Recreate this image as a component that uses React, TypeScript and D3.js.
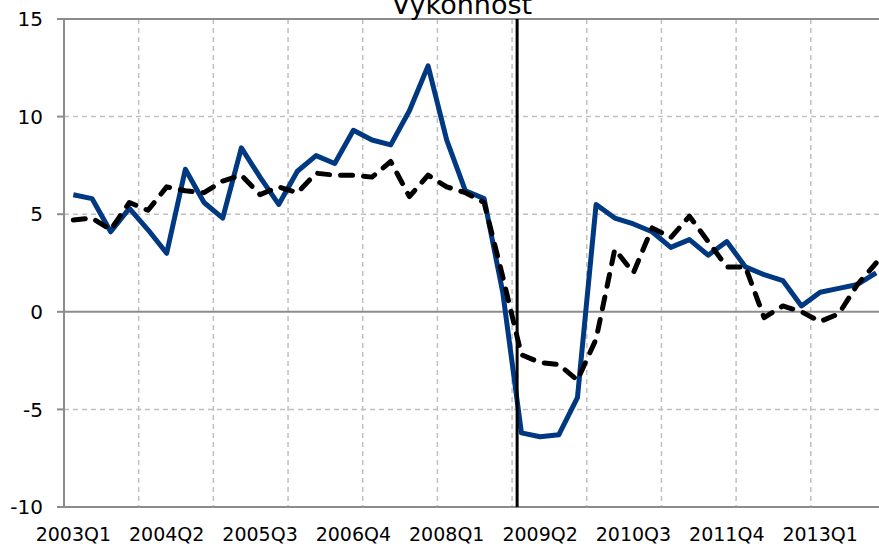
import React from "react";
import * as d3 from "d3";

const quarters = [
  "2003Q1", "2003Q2", "2003Q3", "2003Q4",
  "2004Q1", "2004Q2", "2004Q3", "2004Q4",
  "2005Q1", "2005Q2", "2005Q3", "2005Q4",
  "2006Q1", "2006Q2", "2006Q3", "2006Q4",
  "2007Q1", "2007Q2", "2007Q3", "2007Q4",
  "2008Q1", "2008Q2", "2008Q3", "2008Q4",
  "2009Q1", "2009Q2", "2009Q3", "2009Q4",
  "2010Q1", "2010Q2", "2010Q3", "2010Q4",
  "2011Q1", "2011Q2", "2011Q3", "2011Q4",
  "2012Q1", "2012Q2", "2012Q3", "2012Q4",
  "2013Q1", "2013Q2", "2013Q3", "2013Q4",
];

// solid blue series
const blueSeries = [
  6.0, 5.8, 4.1, 5.3, 4.2, 3.0, 7.3, 5.6, 4.8, 8.4, 6.9, 5.5,
  7.2, 8.0, 7.6, 9.3, 8.8, 8.55, 10.3, 12.6, 8.8, 6.2, 5.8, 1.0,
  -6.2, -6.4, -6.3, -4.4, 5.5, 4.8, 4.5, 4.1, 3.3, 3.7, 2.9, 3.6,
  2.3, 1.9, 1.6, 0.3, 1.0, 1.2, 1.4, 2.0,
];

// dashed black series
const dashedSeries = [
  4.7, 4.8, 4.2, 5.6, 5.2, 6.4, 6.2, 6.1, 6.7, 7.0, 6.0, 6.4,
  6.1, 7.1, 7.0, 7.0, 6.9, 7.7, 5.9, 7.0, 6.4, 6.1, 5.6, 1.8,
  -2.2, -2.6, -2.7, -3.5, -1.4, 3.2, 2.0, 4.3, 3.8, 4.9, 3.6, 2.3,
  2.3, -0.3, 0.3, 0.0, -0.5, -0.1, 1.4, 2.5,
];

const yTicks = [-10, -5, 0, 5, 10, 15];
const xLabels = ["2003Q1", "2004Q2", "2005Q3", "2006Q4", "2008Q1", "2009Q2", "2010Q3", "2011Q4", "2013Q1"];
const yearStarts = ["2004Q1", "2005Q1", "2006Q1", "2007Q1", "2008Q1", "2009Q1", "2010Q1", "2011Q1", "2012Q1", "2013Q1"];
const markerQuarter = "2009Q1";

const width = 879,
  height = 547;
const left = 64,
  top = 19,
  bottom = 507,
  bandW = 18.67;
const font = "'DejaVu Sans', Verdana, sans-serif";

export default function App() {
  const x = d3
    .scaleBand()
    .domain(quarters)
    .range([left, left + bandW * quarters.length]);
  const y = d3.scaleLinear().domain([-10, 15]).range([bottom, top]);
  const cx = (q) => x(q) + x.bandwidth() / 2;

  const line = d3
    .line()
    .x((d, i) => cx(quarters[i]))
    .y((d) => y(d));

  const right = x.range()[1];
  const markerX = x(markerQuarter) + x.bandwidth() * 0.27;

  return (
    <svg
      width={width}
      height={height}
      style={{ position: "absolute", left: 0, top: 0, background: "#fff" }}
    >
      {/* grid */}
      {yTicks
        .filter((t) => t !== 0 && t !== -10 && t !== 15)
        .map((t) => (
          <line key={"h" + t} x1={left} x2={right} y1={y(t)} y2={y(t)}
            stroke="#c0c0c0" strokeWidth={1.5} strokeDasharray="5,4" />
        ))}
      {yearStarts.map((q) => (
        <line key={"v" + q} x1={x(q)} x2={x(q)} y1={top} y2={bottom}
          stroke="#c0c0c0" strokeWidth={1.5} strokeDasharray="5,4" />
      ))}

      {/* axes and frame */}
      <line x1={left} x2={right} y1={top} y2={top} stroke="#8c8c8c" strokeWidth={2} />
      <line x1={left} x2={right} y1={y(0)} y2={y(0)} stroke="#8c8c8c" strokeWidth={2} />
      <line x1={left} x2={right} y1={bottom} y2={bottom} stroke="#8c8c8c" strokeWidth={2} />
      <line x1={left} x2={left} y1={top} y2={bottom} stroke="#8c8c8c" strokeWidth={2} />
      {yTicks.map((t) => (
        <g key={"t" + t}>
          <line x1={left - 7} x2={left} y1={y(t)} y2={y(t)} stroke="#8c8c8c" strokeWidth={2} />
          <text x={43} y={y(t)} dy="0.36em" textAnchor="end"
            fontFamily={font} fontSize={20} fill="#000">
            {t}
          </text>
        </g>
      ))}
      {xLabels.map((q) => (
        <text key={q} x={cx(q)} y={541} textAnchor="middle"
          fontFamily={font} fontSize={19} fill="#000">
          {q}
        </text>
      ))}

      {/* series */}
      <path d={line(blueSeries)} fill="none" stroke="#003882" strokeWidth={5}
        strokeLinejoin="round" />
      <line x1={markerX} x2={markerX} y1={top} y2={bottom} stroke="#000" strokeWidth={3} />
      <path d={line(dashedSeries)} fill="none" stroke="#000" strokeWidth={5}
        strokeDasharray="12,11" strokeLinecap="round" strokeLinejoin="round" />

      <text x={462} y={14} textAnchor="middle" fontFamily={font} fontSize={27} fill="#000">
        Výkonnost
      </text>
    </svg>
  );
}
